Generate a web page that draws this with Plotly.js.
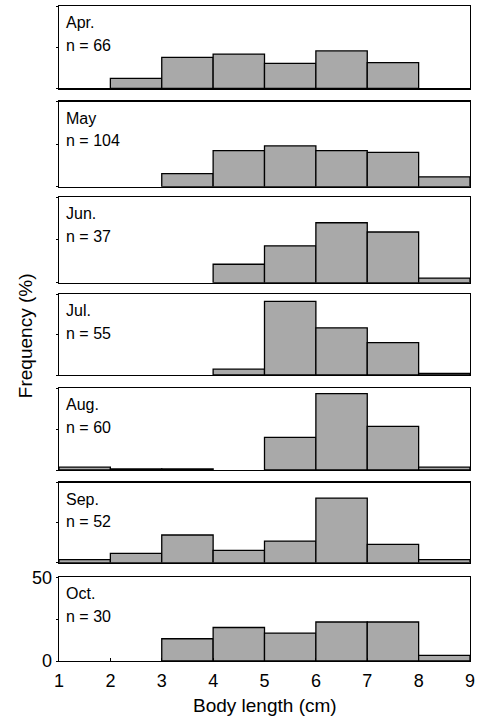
<!DOCTYPE html>
<html>
<head>
<meta charset="utf-8">
<script src="https://cdn.plot.ly/plotly-3.0.1.min.js"></script>
<style>html,body{margin:0;padding:0;background:#fff;}#chart{width:479px;height:717px;}</style>
</head>
<body>
<div id="chart"></div>
<script>
// Bin centers (body length, cm), bins of width 1 from 1 to 9
const binCenters = [1.5, 2.5, 3.5, 4.5, 5.5, 6.5, 7.5, 8.5];
const months = ["Apr.", "May", "Jun.", "Jul.", "Aug.", "Sep.", "Oct."];
const sampleSizes = [66, 104, 37, 55, 60, 52, 30];
// Frequency (%) per bin
const apr = [null, 6.1, 18.8, 20.8, 15.2, 22.7, 15.6, null];
const may = [null, null, 7.7, 21.2, 24.0, 21.2, 20.2, 5.8];
const jun = [null, null, null, 10.8, 21.6, 35.1, 29.7, 2.7];
const jul = [null, null, null, 3.6, 45.5, 29.1, 20.0, 1.0];
const aug = [1.7, 0.6, 0.6, null, 20.0, 46.7, 26.7, 1.7];
const sep = [1.9, 5.8, 17.3, 7.7, 13.5, 40.4, 11.5, 1.9];
const oct = [null, null, 13.3, 20.0, 16.7, 23.3, 23.3, 3.3];
const series = [apr, may, jun, jul, aug, sep, oct];
const xTickVals = [1, 2, 3, 4, 5, 6, 7, 8, 9];
const xTickText = ["1", "2", "3", "4", "5", "6", "7", "8", "9"];
const yTickVals = [0, 25, 50];
const yTickTextBottom = ["0", "", "50"];

// panel domains (top to bottom)
const domains = [
  [0.8743, 1.0],
  [0.7241, 0.8539],
  [0.5776, 0.7079],
  [0.4366, 0.5603],
  [0.2916, 0.4163],
  [0.1501, 0.2722],
  [0.0, 0.1278]
];

const FONT = "Liberation Sans, Arial, Helvetica, sans-serif";
const traces = [];
const layout = {
  width: 479, height: 717,
  margin: {l: 59, r: 9, t: 6, b: 56},
  paper_bgcolor: "#fff", plot_bgcolor: "#fff",
  showlegend: false,
  bargap: 0,
  font: {family: FONT, color: "#000", size: 16},
  annotations: []
};

series.forEach((vals, i) => {
  const n = i + 1;
  const xa = n === 1 ? "x" : "x" + n;
  const ya = n === 1 ? "y" : "y" + n;
  traces.push({
    type: "bar", x: binCenters, y: vals, width: 1,
    xaxis: xa, yaxis: ya,
    marker: {color: "#a9a9a9", line: {color: "#000", width: 1.3}},
    hoverinfo: "skip"
  });
  const isBottom = n === 7;
  layout[n === 1 ? "xaxis" : "xaxis" + n] = {
    domain: [0, 1], anchor: ya, range: [1, 9],
    showline: true, mirror: true, linecolor: "#000", linewidth: 1.4,
    showgrid: false, zeroline: false,
    tickmode: "array", tickvals: xTickVals,
    ticktext: isBottom ? xTickText : xTickVals.map(() => ""),
    ticks: isBottom ? "inside" : "", ticklen: 3, tickcolor: "#000",
    showticklabels: isBottom, ticklabelstandoff: 3,
    tickfont: {family: FONT, size: 18, color: "#000"}
  };
  layout[n === 1 ? "yaxis" : "yaxis" + n] = {
    domain: domains[i], anchor: xa, range: [0, 50],
    showline: true, mirror: true, linecolor: "#000", linewidth: 1.4,
    showgrid: false, zeroline: false,
    tickmode: "array", tickvals: yTickVals,
    ticktext: isBottom ? yTickTextBottom : ["", "", ""],
    ticks: "outside", ticklen: 2, tickcolor: "#000",
    showticklabels: isBottom,
    tickfont: {family: FONT, size: 18, color: "#000"}
  };
  const yref = (n === 1 ? "y" : "y" + n) + " domain";
  layout.annotations.push({
    xref: "paper", yref: yref, x: 0, y: 1, xanchor: "left", yanchor: "middle",
    xshift: 5, yshift: -16.5, showarrow: false, text: months[i],
    font: {family: FONT, size: 16, color: "#000"}
  });
  layout.annotations.push({
    xref: "paper", yref: yref, x: 0, y: 1, xanchor: "left", yanchor: "middle",
    xshift: 5, yshift: -39, showarrow: false, text: "n = " + sampleSizes[i],
    font: {family: FONT, size: 16, color: "#000"}
  });
});

layout.annotations.push({
  xref: "paper", yref: "paper", x: -0.0827, y: 0.496, textangle: -90,
  xanchor: "center", yanchor: "middle", showarrow: false,
  text: "Frequency (%)", font: {family: FONT, size: 19, color: "#000"}
});
layout.annotations.push({
  xref: "paper", yref: "paper", x: 0.5, y: -0.0687,
  xanchor: "center", yanchor: "middle", showarrow: false,
  text: "Body length (cm)", font: {family: FONT, size: 19, color: "#000"}
});

Plotly.newPlot("chart", traces, layout, {staticPlot: true, displayModeBar: false});
</script>
</body>
</html>
